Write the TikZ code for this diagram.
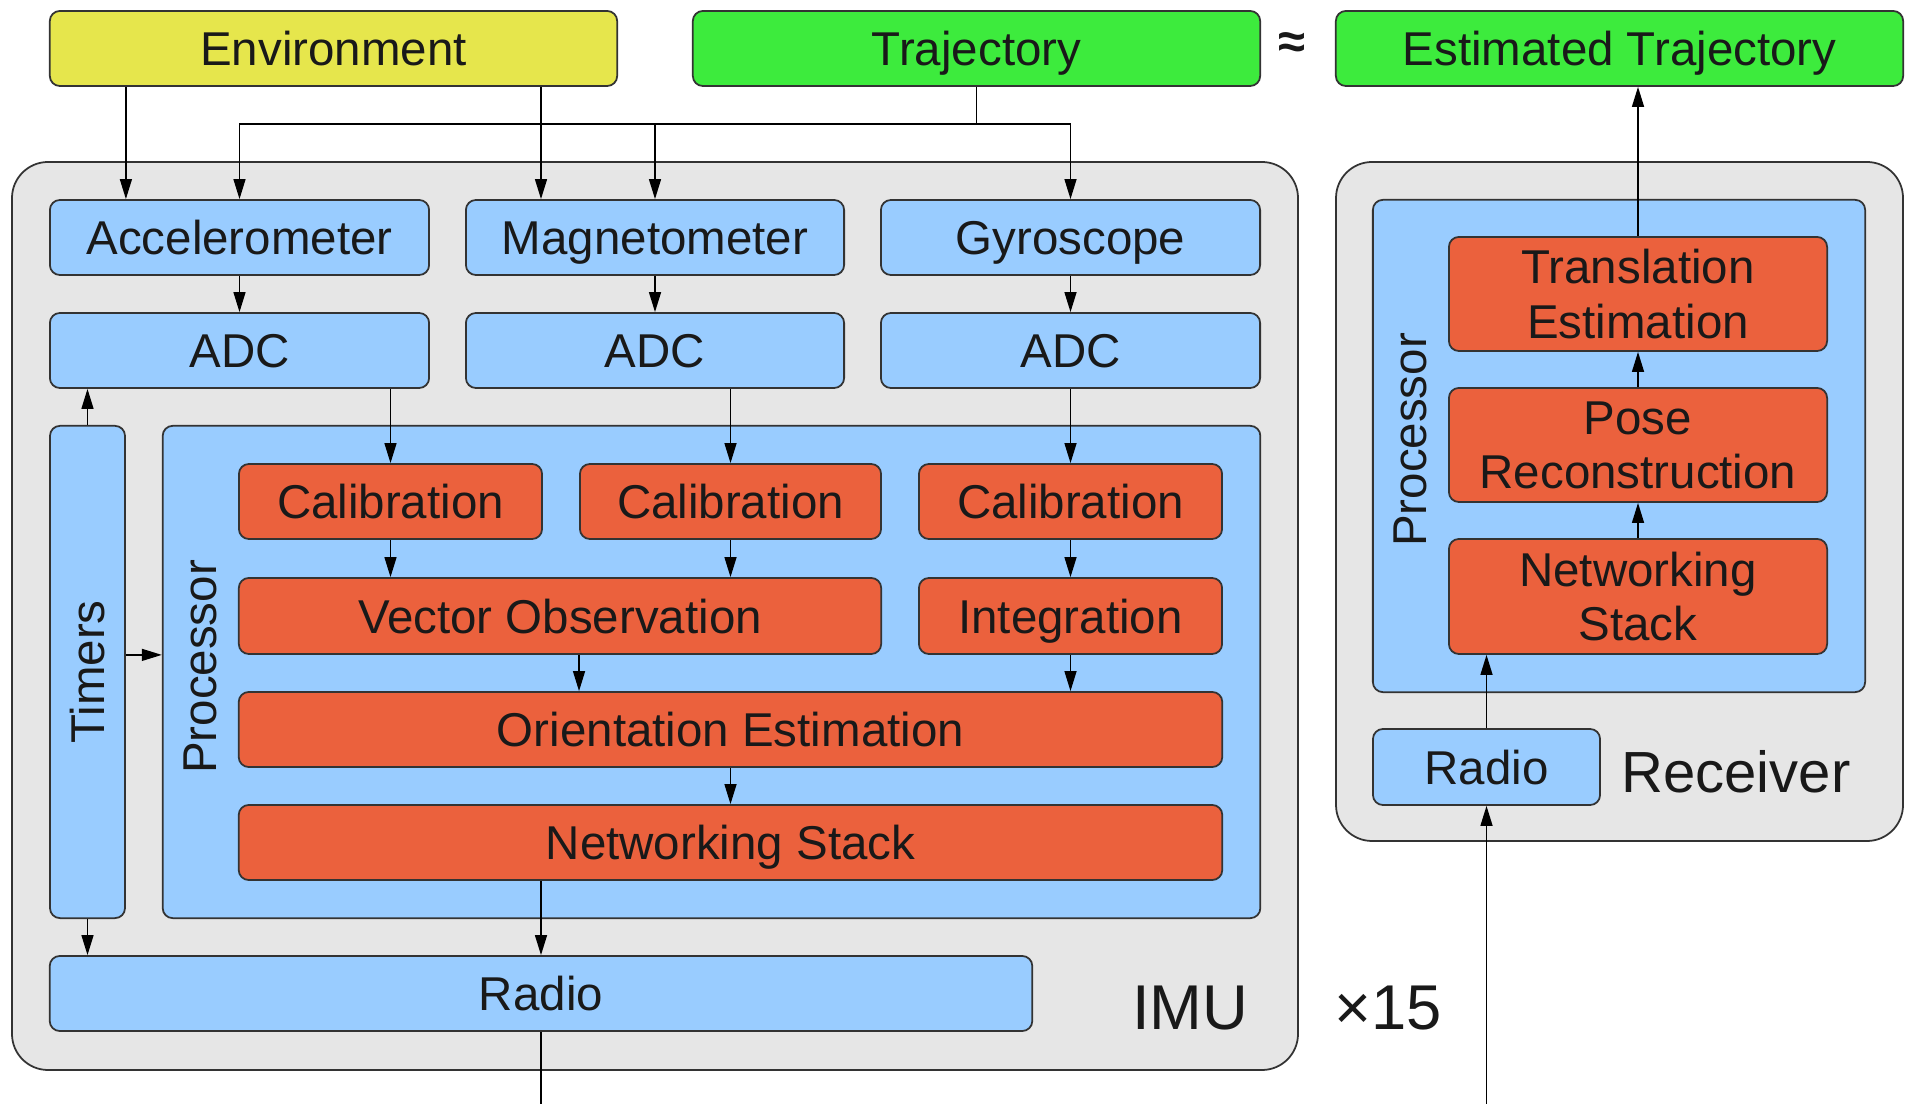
\documentclass[tikz,border=0pt]{standalone}
\usepackage{fontspec}
\setmainfont{Liberation Sans}
\definecolor{envyellow}{RGB}{230,230,76}
\definecolor{trajgreen}{RGB}{61,235,61}
\definecolor{unitblue}{RGB}{153,204,255}
\definecolor{taskred}{RGB}{235,97,61}
\definecolor{casegray}{RGB}{230,230,230}
\usetikzlibrary{arrows.meta,positioning,calc}
\tikzset{
  blk/.style={draw=black!80,line width=0.5pt,rounded corners=0.1cm,inner sep=0pt,
    text=black!90,align=center,font=\fontsize{13.5}{15.4}\selectfont},
  sl/.style={text height=9.7pt,text depth=0pt},
  envbox/.style={blk,sl,fill=envyellow},
  trajbox/.style={blk,sl,fill=trajgreen},
  unitbox/.style={blk,sl,fill=unitblue},
  taskbox/.style={blk,sl,fill=taskred},
  taskml/.style={blk,fill=taskred},
  casebox/.style={draw=black!80,line width=0.5pt,fill=casegray,rounded corners=0.36cm},
  arr/.style={-{Triangle[length=0.2cm,width=0.12cm]},line width=0.4pt,black},
  ln/.style={line width=0.4pt,black},
  vlab/.style={rotate=90,text=black!90,font=\fontsize{13.5}{15.4}\selectfont},
  biglab/.style={text=black!90,font=\fontsize{18}{20}\selectfont},
}
\begin{document}
\begin{tikzpicture}[x=0.01cm,y=-0.01cm]
  \useasboundingbox (0,0) rectangle (1909,1104);
  % --- top row ---
  \node[envbox,minimum width=5.67cm,minimum height=0.75cm] (env) at (333.5,48.5) {Environment};
  \node[trajbox,minimum width=5.67cm,minimum height=0.75cm] (traj) at (976.5,48.5) {Trajectory};
  \node[trajbox,minimum width=5.67cm,minimum height=0.75cm] (est) at (1619.5,48.5) {Estimated Trajectory};
  \node[text=black!90,font=\fontsize{14}{16}\selectfont\bfseries] (approx) at (1292,46) {≈};
  % --- IMU ---
  \draw[casebox] (12,162) rectangle (1298,1070);
  \node[unitbox,minimum width=3.79cm,minimum height=0.75cm] (acc) at (239.5,237.5) {Accelerometer};
  \node[unitbox,minimum width=3.78cm,minimum height=0.75cm] (mag) at (655,237.5) {Magnetometer};
  \node[unitbox,minimum width=3.79cm,minimum height=0.75cm] (gyr) at (1070.5,237.5) {Gyroscope};
  \node[unitbox,minimum width=3.79cm,minimum height=0.75cm] (adca) at (239.5,350.5) {ADC};
  \node[unitbox,minimum width=3.78cm,minimum height=0.75cm] (adcm) at (655,350.5) {ADC};
  \node[unitbox,minimum width=3.79cm,minimum height=0.75cm] (adcg) at (1070.5,350.5) {ADC};
  \node[unitbox,minimum width=0.75cm,minimum height=4.92cm] (tim) at (87.5,672) {};
  \node[vlab] (timlbl) at (tim) {Timers};
  \node[unitbox,minimum width=10.97cm,minimum height=4.92cm] (proc) at (711.5,672) {};
  \node[vlab] (proclbl) at (200,667) {Processor};
  \node[taskbox,minimum width=3.03cm,minimum height=0.75cm] (cala) at (390.5,501.5) {Calibration};
  \node[taskbox,minimum width=3.01cm,minimum height=0.75cm] (calm) at (730.5,501.5) {Calibration};
  \node[taskbox,minimum width=3.03cm,minimum height=0.75cm] (calg) at (1070.5,501.5) {Calibration};
  \node[taskbox,minimum width=6.42cm,minimum height=0.76cm] (vec) at (560,616) {Vector Observation};
  \node[taskbox,minimum width=3.03cm,minimum height=0.76cm] (integ) at (1070.5,616) {Integration};
  \node[taskbox,minimum width=9.83cm,minimum height=0.75cm] (orient) at (730.5,729.5) {Orientation Estimation};
  \node[taskbox,minimum width=9.83cm,minimum height=0.75cm] (net) at (730.5,842.5) {Networking Stack};
  \node[unitbox,minimum width=9.82cm,minimum height=0.75cm] (radio) at (541,993.5) {Radio};
  \node[biglab] (imulbl) at (1190,1008) {IMU};
  \node[biglab] (times) at (1388,1008) {×15};
  % --- Receiver ---
  \draw[casebox] (1336,162) rectangle (1903,841);
  \node[unitbox,minimum width=4.92cm,minimum height=4.92cm] (rproc) at (1619,446) {};
  \node[vlab] (rproclbl) at (1410,440) {Processor};
  \node[taskml,minimum width=3.78cm,minimum height=1.14cm] (trans) at (1638,294) {Translation\\Estimation};
  \node[taskml,minimum width=3.78cm,minimum height=1.14cm] (pose) at (1638,445) {Pose\\Reconstruction};
  \node[taskml,minimum width=3.78cm,minimum height=1.15cm] (rnet) at (1638,596.5) {Networking\\Stack};
  \node[unitbox,minimum width=2.27cm,minimum height=0.76cm] (rradio) at (1486.5,767) {Radio};
  \node[text=black!90,font=\fontsize{16.5}{18}\selectfont] (rxlbl) at (1736,772) {Receiver};
  % --- connectors ---
  \coordinate (tj) at (976.5,124);
  \coordinate (imuout) at (541,1104);
  \coordinate (rxin) at (1486.5,1104);
  \draw[arr] (env.south -| tim.east) -- (acc.north -| tim.east);
  \draw[arr] (env.south -| radio) -- (mag.north -| radio);
  \draw[ln] (traj.south) -- (tj);
  \draw[arr] (tj) -| (acc.north);
  \draw[arr] (tj) -| (mag.north);
  \draw[arr] (tj) -| (gyr.north);
  \draw[arr] (acc) -- (adca);
  \draw[arr] (mag) -- (adcm);
  \draw[arr] (gyr) -- (adcg);
  \draw[arr] (adca.south -| cala) -- (cala.north);
  \draw[arr] (adcm.south -| calm) -- (calm.north);
  \draw[arr] (adcg.south) -- (calg.north);
  \draw[arr] (cala.south) -- (cala.south |- vec.north);
  \draw[arr] (calm.south) -- (calm.south |- vec.north);
  \draw[arr] (calg.south) -- (integ.north);
  \draw[arr] (vec.south -| calm.west) -- (orient.north -| calm.west);
  \draw[arr] (integ.south) -- (integ.south |- orient.north);
  \draw[arr] (orient.south) -- (net.north);
  \draw[arr] (net.south -| radio) -- (radio.north);
  \draw[ln] (radio.south) -- (imuout);
  \draw[arr] (tim.north) -- (tim.north |- adca.south);
  \draw[arr] (tim.south) -- (tim.south |- radio.north);
  \draw[arr] (tim.east |- vec.south) -- (proc.west |- vec.south);
  \draw[arr] (rxin) -- (rradio.south);
  \draw[arr] (rradio.north) -- (rradio.north |- rnet.south);
  \draw[arr] (rnet.north) -- (pose.south);
  \draw[arr] (pose.north) -- (trans.south);
  \draw[arr] (trans.north) -- (trans.north |- est.south);
\end{tikzpicture}
\end{document}
